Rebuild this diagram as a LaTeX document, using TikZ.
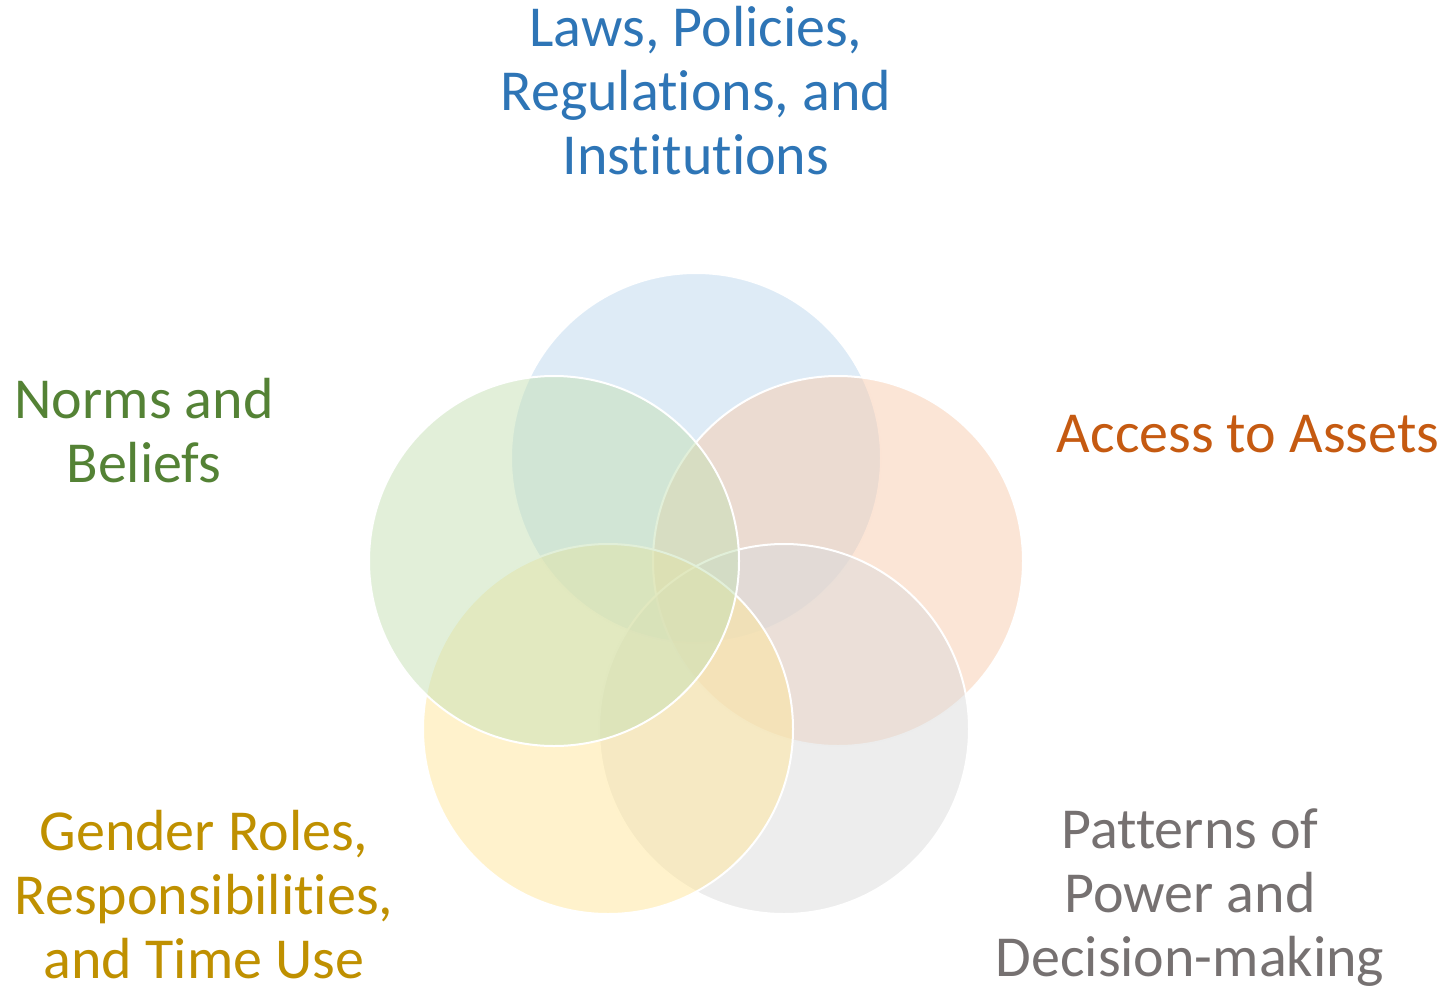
\documentclass[tikz,border=0pt]{standalone}
\usepackage{fontspec}
\setmainfont{Carlito}[Ligatures=NoCommon]
\definecolor{cblue}{HTML}{BDD7EE}
\definecolor{corange}{HTML}{F8CBAD}
\definecolor{cgray}{HTML}{DBDBDB}
\definecolor{cyellow}{HTML}{FFE699}
\definecolor{cgreen}{HTML}{C5E0B4}
\definecolor{tblue}{HTML}{2E75B6}
\definecolor{torange}{HTML}{C55A11}
\definecolor{tgray}{HTML}{767171}
\definecolor{tyellow}{HTML}{BF9000}
\definecolor{tgreen}{HTML}{548235}
\begin{document}
\begin{tikzpicture}[x=1pt,y=-1pt,
  ring/.style={circle,minimum size=370pt,inner sep=0pt,draw=white,line width=2pt,fill=#1,fill opacity=0.5,draw opacity=1},
  lbl/.style={text=#1,align=center,inner sep=0pt,anchor=base,font=\fontsize{58}{64}\selectfont}]
\useasboundingbox (0,0) rectangle (1453,991);
% overlapping circles, back to front
\node[ring=cblue]   (laws)    at (696,458) {};
\node[ring=corange] (assets)  at (838,561) {};
\node[ring=cgray]   (power)   at (784,729) {};
\node[ring=cyellow] (roles)   at (608,729) {};
\node[ring=cgreen]  (norms)   at (554,561) {};
% labels (anchored at the baseline of the last line)
\node[lbl=tblue]   (tlaws)   at (696,174)  {Laws, Policies,\\Regulations, and\\Institutions};
\node[lbl=tgreen]  (tnorms)  at (144,482)  {Norms and\\Beliefs};
\node[lbl=torange] (tassets) at (1248,452) {Access to Assets};
\node[lbl=tyellow] (troles)  at (204,978)  {Gender Roles,\\Responsibilities,\\and Time Use};
\node[lbl=tgray]   (tpower)  at (1190,976) {Patterns of\\Power and\\Decision-making};
\end{tikzpicture}
\end{document}
